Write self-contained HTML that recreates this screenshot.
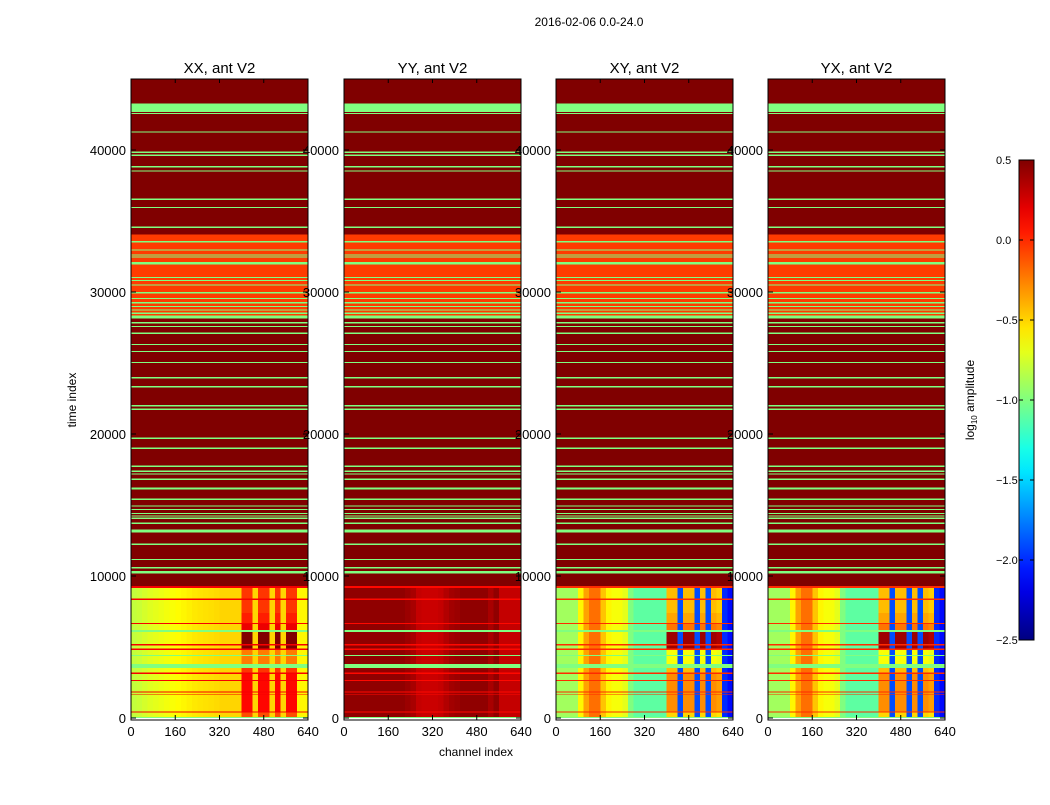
<!DOCTYPE html>
<html><head><meta charset="utf-8"><style>
body{margin:0;background:#fff;}
svg text{font-family:"Liberation Sans",sans-serif;}
</style></head><body>
<svg id="fig" width="1050" height="800" viewBox="0 0 1050 800" xmlns="http://www.w3.org/2000/svg">
<rect width="1050" height="800" fill="#fff"/>
<text x="589" y="26" font-size="12" text-anchor="middle">2016-02-06 0.0-24.0</text>
<text x="76" y="400" font-size="12" text-anchor="middle" transform="rotate(-90 76 400)">time index</text>
<text x="476" y="756" font-size="12" text-anchor="middle">channel index</text>
<defs><linearGradient id="jet" x1="0" y1="1" x2="0" y2="0"></linearGradient></defs>
<g id="panels"></g>
<g id="cbar"></g>
</svg>
<script>
const NS="http://www.w3.org/2000/svg";
const panelTitles=["XX, ant V2","YY, ant V2","XY, ant V2","YX, ant V2"];
const xTicks=[0,160,320,480,640];
const yTicks=[0,10000,20000,30000,40000];
const cbarTicks=[0.5,0.0,-0.5,-1.0,-1.5,-2.0,-2.5];
const cbarLabels=["0.5","0.0","−0.5","−1.0","−1.5","−2.0","−2.5"];
// upper region bands [t0,t1,value]
const upperBands=[[9300,45000,0.5],[28120,34060,-0.05],[42680,43290,-1.0],[28120,28350,-1.0],[13050,13290,-1.0],[10160,10350,-1.0],[16090,16230,-1.0]];
const greenLines=[42580,41270,39840,39630,38820,38520,36530,35960,34560,33540,32960,32600,32460,32060,31970,31030,30800,30490,29950,29550,29250,28970,28730,28500,27840,27560,27090,26310,25820,25040,23960,23330,21990,21740,19700,19000,17730,17370,17180,16810,15400,14930,14690,14410,14230,14060,13710,12230,11170,10580];
// lower region rows [t0,t1,kind,modulation]
const lowerRows=[[9150,9300,'r',0],[8400,9150,'n',0.6],[8320,8400,'r',0],[7400,8320,'n',0.6],[6700,7400,'n',0.7],[6630,6700,'r',0],[6200,6630,'n',0.9],[6060,6200,'g',0],[5200,6060,'n',1.8],[5100,5200,'r',0],[4900,5100,'n',1.8],[4800,4900,'r',0],[4440,4800,'n',0.3],[4380,4440,'g',0],[3800,4380,'n',0.3],[3520,3800,'g',0],[3190,3520,'n',0.6],[3100,3190,'r',0],[2680,3100,'n',0.8],[2620,2680,'r',0],[1850,2620,'n',0.8],[1800,1850,'r',0],[1690,1800,'n',0.8],[1640,1690,'r',0],[470,1640,'n',0.8],[370,470,'r',0],[80,370,'n',0.5],[0,80,'g',0]];
// channel profiles, 32 bins of 20 channels
const profXX=[-0.8,-0.78,-0.75,-0.72,-0.7,-0.68,-0.66,-0.64,-0.62,-0.6,-0.58,-0.56,-0.55,-0.54,-0.53,-0.52,-0.5,-0.5,-0.5,-0.5,-0.45,-0.45,-0.45,-0.45,-0.45,-0.45,-0.45,-0.45,-0.45,-0.45,-0.6,-0.6];
const profYY=[0.45,0.45,0.45,0.45,0.45,0.45,0.45,0.45,0.45,0.45,0.45,0.42,0.38,0.3,0.28,0.28,0.28,0.3,0.35,0.4,0.42,0.45,0.45,0.45,0.45,0.42,0.38,0.32,0.3,0.3,0.3,0.3];
const profXY=[-0.9,-0.9,-0.9,-0.9,-0.6,-0.35,-0.2,-0.2,-0.45,-0.6,-0.65,-0.65,-0.7,-1.0,-1.1,-1.1,-1.1,-1.1,-1.1,-1.1,-0.85,-0.85,-0.85,-0.85,-0.85,-0.85,-0.85,-0.85,-0.85,-0.9,-2.0,-2.1];
const profYX=[-0.9,-0.9,-0.9,-0.9,-0.6,-0.35,-0.2,-0.2,-0.45,-0.6,-0.65,-0.65,-0.7,-1.0,-1.1,-1.1,-1.1,-1.1,-1.1,-1.1,-0.85,-0.85,-0.85,-0.85,-0.85,-0.85,-0.85,-0.85,-0.85,-0.9,-2.0,-2.1];
const patchMask=[0,0,0,0,0,0,0,0,0,0,0,0,0,0,0,0,0,0,0,0,1,1,-1,1,1,-1,1,-1,1,1,0,0];
const profiles=[profXX,profYY,profXY,profYX];
const patchBoost=[0.7,0,0.7,0.7];
const gapValue=[-0.5,0.45,-1.9,-1.9];
const lineValue=[0.15,0.1,0.0,0.0];

const vmin=-2.5,vmax=0.5;
function jet(v){let f=(v-vmin)/(vmax-vmin);f=Math.max(0,Math.min(1,f));
 const c=x=>Math.round(255*Math.max(0,Math.min(1,x)));
 return `rgb(${c(1.5-Math.abs(4*f-3))},${c(1.5-Math.abs(4*f-2))},${c(1.5-Math.abs(4*f-1))})`;}
const panelX=[131,344,556,768],PW=177,Y0=718,Ytop=79;
const ys=t=>Y0-t*0.0142;
const xs=(p,c)=>panelX[p]+c/640*PW;
function el(tag,attrs,parent){const e=document.createElementNS(NS,tag);for(const k in attrs)e.setAttribute(k,attrs[k]);parent.appendChild(e);return e;}
const root=document.getElementById('panels');
for(let p=0;p<4;p++){
 const g=el('g',{'shape-rendering':'crispEdges'},root);
 
 
 for(const b of upperBands){const r=el('rect',{x:panelX[p],y:ys(Math.min(b[1],45000)),width:PW,height:ys(b[0])-ys(Math.min(b[1],45000)),fill:jet(b[2])},g);
  
  }
 for(const t of greenLines){const r=el('rect',{x:panelX[p],y:ys(t)-0.6,width:PW,height:1.2,fill:jet(-1.0)},g);
  
  }
 const prof=profiles[p];
 for(const row of lowerRows){
  const y1=ys(row[1]),h=ys(row[0])-y1;
  for(let b=0;b<32;b++){
   let v;
   if(row[2]==='r')v=lineValue[p];
   else if(row[2]==='g')v=-1.0;
   else{ if(patchMask[b]<0)v=gapValue[p]; else v=prof[b]+patchMask[b]*row[3]*patchBoost[p];}
   const r=el('rect',{x:xs(p,b*20),y:y1,width:PW/32+0.3,height:h,fill:jet(v)},g);
   
   
  }
 }
 const fr=el('rect',{x:panelX[p],y:Ytop,width:PW,height:Y0+2-Ytop,fill:'none',stroke:'#000','stroke-width':1},root);
 
 
 const tt=el('text',{x:panelX[p]+PW/2,y:73,'font-size':15,'text-anchor':'middle'},root);tt.textContent=panelTitles[p];
 
 
 for(const t of xTicks){const x=xs(p,t);
  el('line',{x1:x,x2:x,y1:Y0+2,y2:Y0-3,stroke:'#000'},root);
  el('line',{x1:x,x2:x,y1:Ytop,y2:Ytop+4,stroke:'#000'},root);
  const tx=el('text',{x:x,y:736,'font-size':13,'text-anchor':'middle'},root);tx.textContent=t;
  
  }
 for(const t of yTicks){const y=ys(t);
  el('line',{x1:panelX[p],x2:panelX[p]+5,y1:y,y2:y,stroke:'#000'},root);
  el('line',{x1:panelX[p]+PW,x2:panelX[p]+PW-5,y1:y,y2:y,stroke:'#000'},root);
  const ty=el('text',{x:panelX[p]-5,y:y+5,'font-size':13,'text-anchor':'end'},root);ty.textContent=t;
  
  }
}
// colorbar
const grad=document.getElementById('jet');
for(let i=0;i<=20;i++){const v=vmin+(vmax-vmin)*i/20;el('stop',{offset:(i/20),'stop-color':jet(v)},grad);}
const cb=document.getElementById('cbar');
const cy=v=>640-(v-vmin)/(vmax-vmin)*480;
el('rect',{x:1019,y:160,width:15,height:480,fill:'url(#jet)',stroke:'#000','stroke-width':1},cb);
cbarTicks.forEach((v,i)=>{const y=cy(v);
 el('line',{x1:1019,x2:1023,y1:y,y2:y,stroke:'#000'},cb);
 el('line',{x1:1034,x2:1030,y1:y,y2:y,stroke:'#000'},cb);
 const t=el('text',{x:996,y:y+4,'font-size':11},cb);t.textContent=cbarLabels[i];
 
 });
const cl=el('text',{x:974,y:400,'font-size':12,'text-anchor':'middle',transform:'rotate(-90 974 400)'},cb);
cl.innerHTML='log<tspan font-size="8" dy="3">10</tspan><tspan dy="-3"> amplitude</tspan>';


</script>
</body></html>
